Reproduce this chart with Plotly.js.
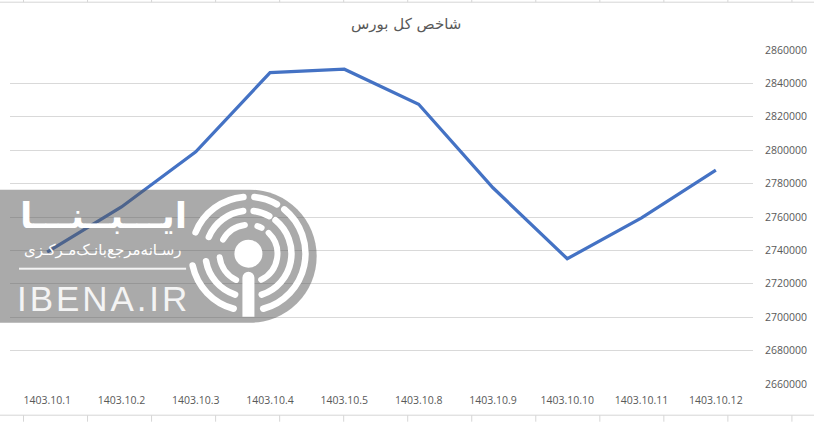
<!DOCTYPE html>
<html><head><meta charset="utf-8">
<script src="https://cdn.plot.ly/plotly-3.0.1.min.js"></script>
<style>html,body{margin:0;padding:0;background:#fff}#c{width:814px;height:422px}</style>
</head><body><div id="c"></div>
<script>
const categories = ["1403.10.1","1403.10.2","1403.10.3","1403.10.4","1403.10.5","1403.10.8","1403.10.9","1403.10.10","1403.10.11","1403.10.12"];
const indexValues = [2739000,2766000,2799000,2846500,2848500,2827500,2777500,2735000,2759500,2788000];
const titleText = "شاخص کل بورس";
const logoName = "ایـــبــنـــا";
const logoTagline = "رسـانه‌مرجع‌بانـک‌مـرکـزی";
const logoLatin = "I\u200AB\u200AE\u200AN\u200AA\u200A.\u200AI\u200AR";

const W=814,H=422,L=10,R=752.6,T=50.3,B=384.3;
const px=x=>(x-L)/(R-L), py=y=>(B-y)/(B-T);

const cellLine='#d6d6d6';
const shapes=[
 {type:'line',xref:'paper',yref:'paper',x0:px(0),x1:px(W),y0:py(2.5),y1:py(2.5),line:{color:cellLine,width:1},layer:'below'},
 {type:'line',xref:'paper',yref:'paper',x0:px(0),x1:px(W),y0:py(415.5),y1:py(415.5),line:{color:cellLine,width:1},layer:'below'}
];
for(let x=23.5;x<W;x+=64){
 shapes.push({type:'line',xref:'paper',yref:'paper',x0:px(x),x1:px(x),y0:py(0),y1:py(2.5),line:{color:cellLine,width:1},layer:'below'});
 shapes.push({type:'line',xref:'paper',yref:'paper',x0:px(x),x1:px(x),y0:py(415.5),y1:py(422),line:{color:cellLine,width:1},layer:'below'});
}

function arc(r,a,b){
 const cx=248.3,cy=254,d=Math.PI/180;
 const p=t=>[(cx+r*Math.sin(t*d)).toFixed(2),(cy-r*Math.cos(t*d)).toFixed(2)];
 const s=p(a),e=p(b);
 return `M${s[0]} ${s[1]}A${r} ${r} 0 ${(b-a)>180?1:0} 1 ${e[0]} ${e[1]}`;
}
const rings=[[29,6,[[-61,-7],[18,27],[44,154],[-155,-97]]],[43,6.5,[[-67,-7],[7,29],[39,162],[-162,-100]]],[57,6.5,[[-68,-5],[6,30],[39,165],[-165,-102]]]];
let arcs='';
rings.forEach(([r,w,l])=>l.forEach(([a,b])=>{arcs+=`<path d="${arc(r,a,b)}" fill="none" stroke="#fff" stroke-width="${w}" stroke-linecap="round"/>`;}));
const svg=`<svg xmlns="http://www.w3.org/2000/svg" width="320" height="136" viewBox="0 188 320 136">`+
 `<path d="M0 190H250A66.5 66.5 0 0 1 250 323H0Z" fill="rgb(85,85,85)" fill-opacity="0.5"/>`+arcs+
 `<circle cx="248.3" cy="254" r="14" fill="#fff"/>`+
 `<path d="M242.3 317V278a6 6 0 0 1 12 0V317Z" fill="#fff"/>`+
 `<rect x="19" y="268" width="167" height="2" fill="#f4f4f4"/></svg>`;

const font='"Open Sans", sans-serif';
Plotly.newPlot('c',[{
 type:'scatter',mode:'lines',x:categories,y:indexValues,
 line:{color:'#4472c4',width:3.25,shape:'linear'},hoverinfo:'skip'
}],{
 width:W,height:H,showlegend:false,paper_bgcolor:'#fff',plot_bgcolor:'#fff',
 margin:{l:L,r:W-R,t:T,b:H-B,pad:0},
 xaxis:{type:'category',range:[-0.5,9.5],showgrid:false,zeroline:false,showline:false,ticks:'outside',ticklen:6,tickcolor:'rgba(0,0,0,0)',tickfont:{family:font,size:10.5,color:'#595959'}},
 yaxis:{side:'right',range:[2660000,2860000],tick0:2660000,dtick:20000,tickformat:'d',gridcolor:'#d9d9d9',gridwidth:1,zeroline:false,showline:false,ticks:'outside',ticklen:9,tickcolor:'rgba(0,0,0,0)',tickfont:{family:font,size:10.5,color:'#595959'}},
 title:{text:titleText,x:px(406),xanchor:'center',xref:'paper',y:1-24/H,yanchor:'middle',font:{family:'"DejaVu Sans", sans-serif',size:15,color:'#595959'}},
 shapes:shapes,
 images:[{source:'data:image/svg+xml;base64,'+btoa(svg),xref:'paper',yref:'paper',x:px(0),y:py(188),sizex:px(320)-px(0),sizey:py(188)-py(324),sizing:'stretch',xanchor:'left',yanchor:'top',layer:'above'}],
 annotations:[
  {text:logoName,xref:'paper',yref:'paper',x:px(103),y:py(216),showarrow:false,xanchor:'center',yanchor:'middle',font:{family:'"DejaVu Sans", sans-serif',size:36,color:'#fff',weight:700}},
  {text:logoTagline,xref:'paper',yref:'paper',x:px(103),y:py(250),showarrow:false,xanchor:'center',yanchor:'middle',font:{family:'"DejaVu Sans", sans-serif',size:15,color:'#fff'}},
  {text:logoLatin,xref:'paper',yref:'paper',x:px(102),y:py(299),showarrow:false,xanchor:'center',yanchor:'middle',font:{family:'"Liberation Sans Narrow","Liberation Sans",sans-serif',size:35,color:'#f4f4f4'}}
 ]
},{staticPlot:true,displayModeBar:false});
</script></body></html>
